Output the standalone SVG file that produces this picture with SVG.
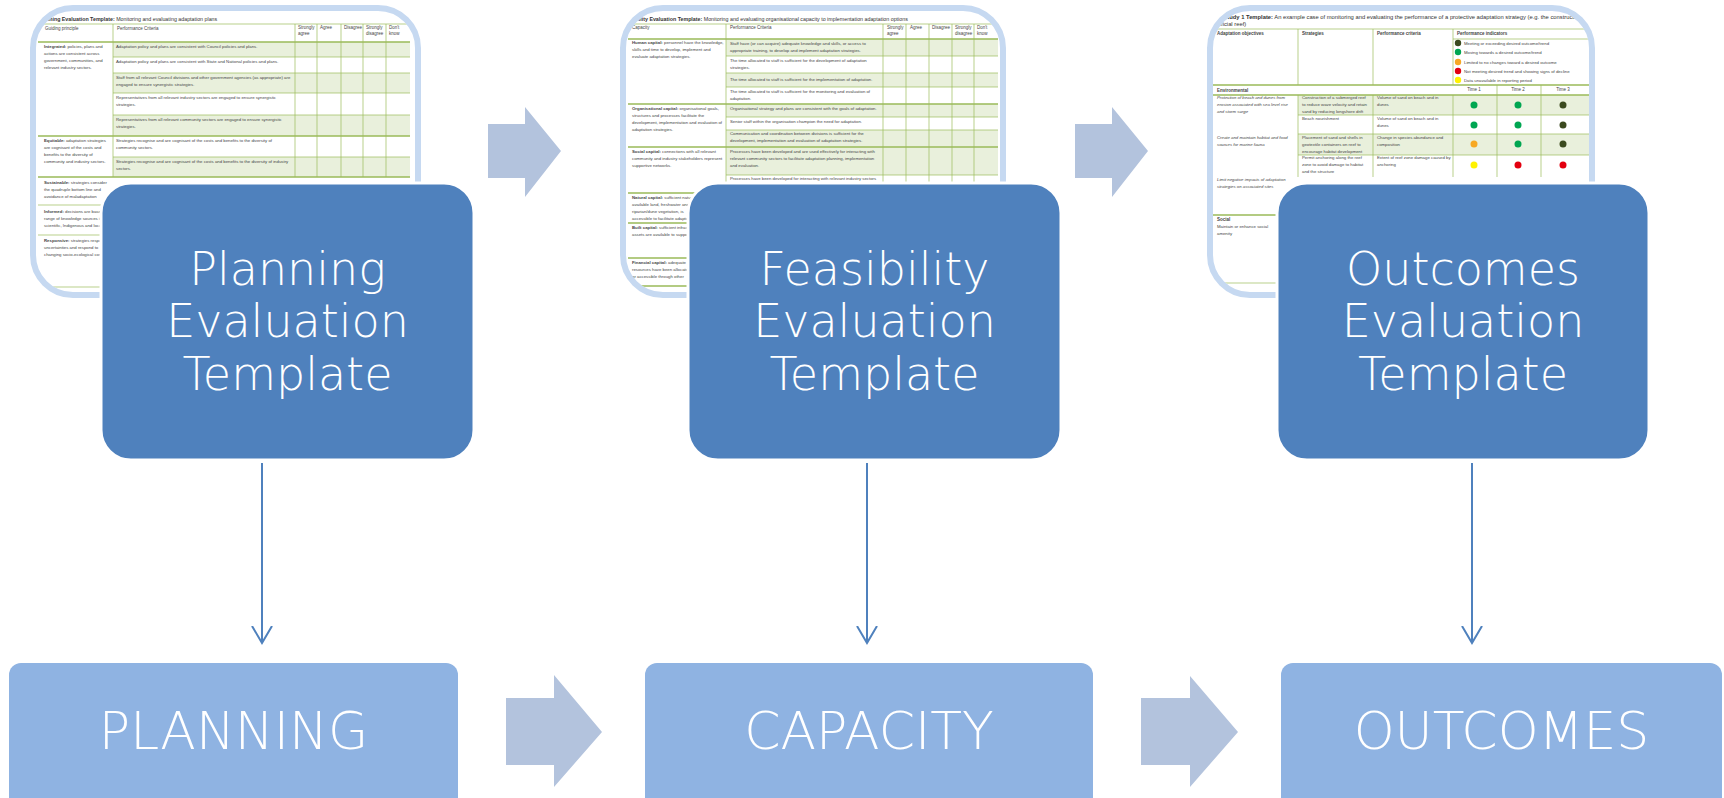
<svg xmlns="http://www.w3.org/2000/svg" width="1724" height="798" viewBox="0 0 1724 798">
<defs>
<style>
.frame{fill:#fff;stroke:#c6d9f1;stroke-width:6}
.dark{fill:#4f81bd;stroke:#fff;stroke-width:3}
.light{fill:#8fb3e2}
.chev{fill:#b3c3dd}
.conn{stroke:#4f81bd;stroke-width:2;fill:none}
.big{font-family:"DejaVu Sans",sans-serif;font-weight:200;fill:#fff;font-size:46px;text-anchor:middle}
.caps{font-family:"DejaVu Sans",sans-serif;font-weight:200;fill:#fff;font-size:52px;text-anchor:middle}
.t{font-family:"Liberation Sans",sans-serif;font-size:4.3px;fill:#444}
.tt{font-family:"Liberation Sans",sans-serif;font-size:5.3px;fill:#333}
.th{font-family:"Liberation Sans",sans-serif;font-size:4.5px;fill:#444}
.b{font-weight:bold}
.i{font-style:italic}
.shade{fill:#e9f0dc}
.gl{stroke:#9bbb59;stroke-width:0.7;fill:none}
.gl2{stroke:#9bbb59;stroke-width:1.6;fill:none}
.mid{text-anchor:middle}
</style>
<marker id="ah" viewBox="0 0 20 22" refX="17" refY="11" markerWidth="20" markerHeight="22" markerUnits="userSpaceOnUse" orient="auto">
<path d="M0,1 L17,11 L0,21" fill="none" stroke="#4f81bd" stroke-width="2"/>
</marker>
<clipPath id="c1"><rect x="36" y="11" width="379" height="281" rx="37"/></clipPath>
<clipPath id="c2"><rect x="626" y="11" width="374" height="281" rx="37"/></clipPath>
<clipPath id="c3"><rect x="1213" y="11" width="376" height="281" rx="37"/></clipPath>
</defs>

<!-- Thumbnail 1 -->
<g id="thumb-planning">
<rect class="frame" x="33" y="8" width="385" height="287" rx="40"/>
<g clip-path="url(#c1)">
<text class="tt" x="38" y="21"><tspan class="b">Planning Evaluation Template:</tspan> Monitoring and evaluating adaptation plans</text>
<rect class="shade" x="113" y="42" width="297" height="15"/>
<rect class="shade" x="113" y="73" width="297" height="20"/>
<rect class="shade" x="113" y="115" width="297" height="21"/>
<rect class="shade" x="113" y="157" width="297" height="20"/>
<path class="gl" d="M38,24H410M113,24V177M295,24V177M317,24V177M341,24V177M363,24V177M386,24V177M113,57H410M113,73H410M113,93H410M113,115H410M113,157H410M38,205H120M38,235H120M38,287H410"/>
<path class="gl2" d="M38,42H410M38,136H410M38,177H410"/>
<text class="th" x="45" y="30">Guiding principle</text>
<text class="th" x="117" y="30">Performance Criteria</text>
<text class="th" x="298" y="29">Strongly<tspan x="298" y="35">agree</tspan></text>
<text class="th" x="320" y="29">Agree</text>
<text class="th" x="344" y="29">Disagree</text>
<text class="th" x="366" y="29">Strongly<tspan x="366" y="35">disagree</tspan></text>
<text class="th" x="389" y="29">Don't<tspan x="389" y="35">know</tspan></text>
<text class="t" x="116" y="48">Adaptation policy and plans are consistent with Council policies and plans.</text>
<text class="t" x="116" y="63">Adaptation policy and plans are consistent with State and National policies and plans.</text>
<text class="t" x="116" y="79">Staff from all relevant Council divisions and other government agencies (as appropriate) are<tspan x="116" y="86">engaged to ensure synergistic strategies.</tspan></text>
<text class="t" x="116" y="99">Representatives from all relevant industry sectors are engaged to ensure synergistic<tspan x="116" y="106">strategies.</tspan></text>
<text class="t" x="116" y="121">Representatives from all relevant community sectors are engaged to ensure synergistic<tspan x="116" y="128">strategies.</tspan></text>
<text class="t" x="116" y="142">Strategies recognise and are cognisant of the costs and benefits to the diversity of<tspan x="116" y="149">community sectors.</tspan></text>
<text class="t" x="116" y="163">Strategies recognise and are cognisant of the costs and benefits to the diversity of industry<tspan x="116" y="170">sectors.</tspan></text>
<text class="t" x="44" y="48"><tspan class="b">Integrated:</tspan> policies, plans and<tspan x="44" y="55">actions are consistent across</tspan><tspan x="44" y="62">government, communities, and</tspan><tspan x="44" y="69">relevant industry sectors.</tspan></text>
<text class="t" x="44" y="142"><tspan class="b">Equitable:</tspan> adaptation strategies<tspan x="44" y="149">are cognisant of the costs and</tspan><tspan x="44" y="156">benefits to the diversity of</tspan><tspan x="44" y="163">community and industry sectors.</tspan></text>
<text class="t" x="44" y="184"><tspan class="b">Sustainable:</tspan> strategies consider<tspan x="44" y="191">the quadruple bottom line and</tspan><tspan x="44" y="198">avoidance of maladaptation</tspan></text>
<text class="t" x="44" y="213"><tspan class="b">Informed:</tspan> decisions are based on a<tspan x="44" y="220">range of knowledge sources including</tspan><tspan x="44" y="227">scientific, Indigenous and local</tspan></text>
<text class="t" x="44" y="242"><tspan class="b">Responsive:</tspan> strategies respond to<tspan x="44" y="249">uncertainties and respond to</tspan><tspan x="44" y="256">changing socio-ecological conditions</tspan></text>
</g>
</g>

<!-- Thumbnail 2 -->
<g id="thumb-feasibility">
<rect class="frame" x="623" y="8" width="380" height="287" rx="40"/>
<g clip-path="url(#c2)">
<text class="tt" x="622" y="21"><tspan class="b">Feasibility Evaluation Template:</tspan> Monitoring and evaluating organisational capacity to implementation adaptation options</text>
<rect class="shade" x="726" y="39" width="272" height="17"/>
<rect class="shade" x="726" y="73" width="272" height="14"/>
<rect class="shade" x="726" y="104" width="272" height="13"/>
<rect class="shade" x="726" y="130" width="272" height="17"/>
<rect class="shade" x="726" y="147" width="272" height="28"/>
<path class="gl" d="M628,24H998M726,24V190M883,24V190M906,24V190M929,24V190M952,24V190M974,24V190M726,56H998M726,73H998M726,87H998M726,117H998M726,130H998M726,175H998"/>
<path class="gl2" d="M628,39H998M628,104H998M628,147H998M628,193H700M628,223H700M628,258H700M628,286H998"/>
<text class="th" x="632" y="29">Capacity</text>
<text class="th" x="730" y="29">Performance Criteria</text>
<text class="th" x="887" y="29">Strongly<tspan x="887" y="35">agree</tspan></text>
<text class="th" x="910" y="29">Agree</text>
<text class="th" x="932" y="29">Disagree</text>
<text class="th" x="955" y="29">Strongly<tspan x="955" y="35">disagree</tspan></text>
<text class="th" x="977" y="29">Don't<tspan x="977" y="35">know</tspan></text>
<text class="t" x="632" y="44"><tspan class="b">Human capital:</tspan> personnel have the knowledge,<tspan x="632" y="51">skills and time to develop, implement and</tspan><tspan x="632" y="58">evaluate adaptation strategies.</tspan></text>
<text class="t" x="632" y="110"><tspan class="b">Organisational capital:</tspan> organisational goals,<tspan x="632" y="117">structures and processes facilitate the</tspan><tspan x="632" y="124">development, implementation and evaluation of</tspan><tspan x="632" y="131">adaptation strategies.</tspan></text>
<text class="t" x="632" y="153"><tspan class="b">Social capital:</tspan> connections with all relevant<tspan x="632" y="160">community and industry stakeholders represent</tspan><tspan x="632" y="167">supportive networks.</tspan></text>
<text class="t" x="632" y="199"><tspan class="b">Natural capital:</tspan> sufficient natural<tspan x="632" y="206">available land, freshwater and</tspan><tspan x="632" y="213">riparian/dune vegetation, is</tspan><tspan x="632" y="220">accessible to facilitate adaptation</tspan></text>
<text class="t" x="632" y="229"><tspan class="b">Built capital:</tspan> sufficient infrastructure<tspan x="632" y="236">assets are available to support</tspan></text>
<text class="t" x="632" y="264"><tspan class="b">Financial capital:</tspan> adequate financial<tspan x="632" y="271">resources have been allocated</tspan><tspan x="632" y="278">or accessible through other</tspan></text>
<text class="t" x="730" y="45">Staff have (or can acquire) adequate knowledge and skills, or access to<tspan x="730" y="52">appropriate training, to develop and implement adaptation strategies.</tspan></text>
<text class="t" x="730" y="62">The time allocated to staff is sufficient for the development of adaptation<tspan x="730" y="69">strategies.</tspan></text>
<text class="t" x="730" y="81">The time allocated to staff is sufficient for the implementation of adaptation.</text>
<text class="t" x="730" y="93">The time allocated to staff is sufficient for the monitoring and evaluation of<tspan x="730" y="100">adaptation.</tspan></text>
<text class="t" x="730" y="110">Organisational strategy and plans are consistent with the goals of adaptation.</text>
<text class="t" x="730" y="123">Senior staff within the organisation champion the need for adaptation.</text>
<text class="t" x="730" y="135">Communication and coordination between divisions is sufficient for the<tspan x="730" y="142">development, implementation and evaluation of adaptation strategies.</tspan></text>
<text class="t" x="730" y="153">Processes have been developed and are used effectively for interacting with<tspan x="730" y="160">relevant community sectors to facilitate adaptation planning, implementation</tspan><tspan x="730" y="167">and evaluation.</tspan></text>
<text class="t" x="730" y="180">Processes have been developed for interacting with relevant industry sectors</text>
</g>
</g>

<!-- Thumbnail 3 -->
<g id="thumb-outcomes">
<rect class="frame" x="1210" y="8" width="382" height="287" rx="40"/>
<g clip-path="url(#c3)">
<text class="tt" x="1208" y="19" style="font-size:5.8px"><tspan class="b">Case Study 1 Template:</tspan> An example case of monitoring and evaluating the performance of a protective adaptation strategy (e.g. the construction of an<tspan x="1213" y="26">artificial reef)</tspan></text>
<rect class="shade" x="1298" y="95" width="294" height="20"/>
<rect class="shade" x="1298" y="134" width="294" height="21"/>
<path class="gl" d="M1213,29H1592M1453,39H1592M1298,29V85M1373,29V85M1453,29V85M1298,95V177M1373,95V177M1453,95V177M1497,85V177M1541,85V177M1298,115H1592M1298,134H1592M1298,155H1592M1213,283H1592"/>
<path class="gl2" d="M1213,85H1592M1213,95H1592M1213,215H1300"/>
<text class="th b" x="1217" y="35">Adaptation objectives</text>
<text class="th b" x="1302" y="35">Strategies</text>
<text class="th b" x="1377" y="35">Performance criteria</text>
<text class="th b" x="1457" y="35">Performance indicators</text>
<circle cx="1458" cy="43" r="3.2" fill="#3b4a1e"/>
<circle cx="1458" cy="52" r="3.2" fill="#00a651"/>
<circle cx="1458" cy="62" r="3.2" fill="#f7a823"/>
<circle cx="1458" cy="71" r="3.2" fill="#e3000f"/>
<circle cx="1458" cy="80" r="3.2" fill="#fff200"/>
<text class="t" x="1464" y="44.5">Meeting or exceeding desired outcome/trend</text>
<text class="t" x="1464" y="53.5">Moving towards a desired outcome/trend</text>
<text class="t" x="1464" y="63.5">Limited to no changes toward a desired outcome</text>
<text class="t" x="1464" y="72.5">Not meeting desired trend and showing signs of decline</text>
<text class="t" x="1464" y="81.5">Data unavailable in reporting period</text>
<text class="th b" x="1217" y="92">Environmental</text>
<text class="th mid" x="1474" y="91">Time 1</text>
<text class="th mid" x="1518" y="91">Time 2</text>
<text class="th mid" x="1563" y="91">Time 3</text>
<circle cx="1474" cy="105" r="3.5" fill="#00a651"/>
<circle cx="1518" cy="105" r="3.5" fill="#00a651"/>
<circle cx="1563" cy="105" r="3.5" fill="#3b4a1e"/>
<circle cx="1474" cy="125" r="3.5" fill="#00a651"/>
<circle cx="1518" cy="125" r="3.5" fill="#00a651"/>
<circle cx="1563" cy="125" r="3.5" fill="#3b4a1e"/>
<circle cx="1474" cy="144" r="3.5" fill="#f7a823"/>
<circle cx="1518" cy="144" r="3.5" fill="#00a651"/>
<circle cx="1563" cy="144" r="3.5" fill="#3b4a1e"/>
<circle cx="1474" cy="165" r="3.5" fill="#fff200"/>
<circle cx="1518" cy="165" r="3.5" fill="#e3000f"/>
<circle cx="1563" cy="165" r="3.5" fill="#e3000f"/>
<text class="t i" x="1217" y="99">Protection of beach and dunes from<tspan x="1217" y="106">erosion associated with sea level rise</tspan><tspan x="1217" y="113">and storm surge</tspan></text>
<text class="t i" x="1217" y="139">Create and maintain habitat and food<tspan x="1217" y="146">sources for marine fauna</tspan></text>
<text class="t i" x="1217" y="181">Limit negative impacts of adaptation<tspan x="1217" y="188">strategies on associated sites</tspan></text>
<text class="t" x="1302" y="99">Construction of a submerged reef<tspan x="1302" y="106">to reduce wave velocity and retain</tspan><tspan x="1302" y="113">sand by reducing longshore drift</tspan></text>
<text class="t" x="1302" y="120">Beach nourishment</text>
<text class="t" x="1302" y="139">Placement of sand and shells in<tspan x="1302" y="146">geotextile containers on reef to</tspan><tspan x="1302" y="153">encourage habitat development</tspan></text>
<text class="t" x="1302" y="159">Permit anchoring along the reef<tspan x="1302" y="166">zone to avoid damage to habitat</tspan><tspan x="1302" y="173">and the structure</tspan></text>
<text class="t" x="1377" y="99">Volume of sand on beach and in<tspan x="1377" y="106">dunes</tspan></text>
<text class="t" x="1377" y="120">Volume of sand on beach and in<tspan x="1377" y="127">dunes</tspan></text>
<text class="t" x="1377" y="139">Change in species abundance and<tspan x="1377" y="146">composition</tspan></text>
<text class="t" x="1377" y="159">Extent of reef zone damage caused by<tspan x="1377" y="166">anchoring</tspan></text>
<text class="th b" x="1217" y="221">Social</text>
<text class="t" x="1217" y="228">Maintain or enhance social<tspan x="1217" y="235">amenity</tspan></text>
</g>
</g>

<!-- Template boxes -->
<g id="node-planning-template">
<rect class="dark" x="101" y="183" width="373" height="277" rx="30"/>
<text class="big" x="287.5" y="285">Planning</text>
<text class="big" x="287.5" y="337">Evaluation</text>
<text class="big" x="287.5" y="390">Template</text>
</g>
<g id="node-feasibility-template">
<rect class="dark" x="688" y="183" width="373" height="277" rx="30"/>
<text class="big" x="874.5" y="285">Feasibility</text>
<text class="big" x="874.5" y="337">Evaluation</text>
<text class="big" x="874.5" y="390">Template</text>
</g>
<g id="node-outcomes-template">
<rect class="dark" x="1277" y="183" width="372" height="277" rx="30"/>
<text class="big" x="1463" y="285">Outcomes</text>
<text class="big" x="1463" y="337">Evaluation</text>
<text class="big" x="1463" y="390">Template</text>
</g>

<!-- Stage boxes -->
<g id="node-planning">
<rect class="light" x="9" y="663" width="449" height="150" rx="12"/>
<text class="caps" x="233.5" y="749">PLANNING</text>
</g>
<g id="node-capacity">
<rect class="light" x="645" y="663" width="448" height="150" rx="12"/>
<text class="caps" x="869" y="749">CAPACITY</text>
</g>
<g id="node-outcomes">
<rect class="light" x="1281" y="663" width="441" height="150" rx="12"/>
<text class="caps" x="1501.5" y="749">OUTCOMES</text>
</g>

<!-- Connectors -->
<g id="connectors">
<path class="chev" d="M488,124H525V107L561,151L525,197V178H488Z"/>
<path class="chev" d="M1075,124H1112V107L1148,151L1112,197V178H1075Z"/>
<path class="chev" d="M506,698H554V675L602,732L554,787V765H506Z"/>
<path class="chev" d="M1141,698H1190V676L1238,732L1190,787V765H1141Z"/>
<line class="conn" x1="262" y1="463" x2="262" y2="643" marker-end="url(#ah)"/>
<line class="conn" x1="867" y1="463" x2="867" y2="643" marker-end="url(#ah)"/>
<line class="conn" x1="1472" y1="463" x2="1472" y2="643" marker-end="url(#ah)"/>
</g>
</svg>
